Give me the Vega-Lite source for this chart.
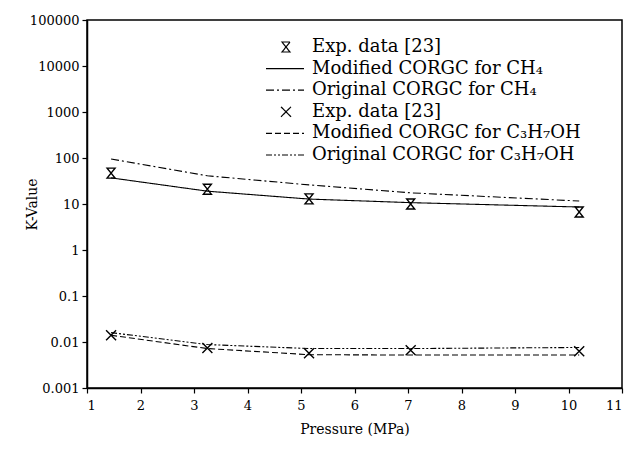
{
  "$schema": "https://vega.github.io/schema/vega-lite/v6.json",
  "width": 535,
  "height": 368,
  "autosize": {"type": "none"},
  "padding": {"left": 87, "top": 20, "right": 6, "bottom": 64},
  "background": "white",
  "config": {
    "font": "DejaVu Serif",
    "view": {"stroke": "black", "strokeWidth": 1.5},
    "axis": {
      "grid": false,
      "domainColor": "black",
      "domainWidth": 1.5,
      "tickColor": "black",
      "tickWidth": 1.2,
      "tickSize": 5,
      "labelColor": "black",
      "labelFont": "DejaVu Serif",
      "labelFontSize": 13,
      "titleColor": "black",
      "titleFont": "DejaVu Serif",
      "titleFontSize": 14,
      "titleFontWeight": "normal"
    },
    "legend": {
      "orient": "none",
      "legendX": 190,
      "legendY": 18,
      "padding": 0,
      "title": null,
      "labelFont": "DejaVu Serif",
      "labelFontSize": 18,
      "labelColor": "black",
      "labelLimit": 420,
      "labelOffset": 17,
      "rowPadding": 3.6,
      "symbolSize": 100,
      "symbolStrokeColor": "black",
      "symbolFillColor": "transparent",
      "symbolStrokeWidth": 1.2
    }
  },
  "datasets": {
    "lines": [
      {"series": "b", "P": 1.45, "K": 37},
      {"series": "b", "P": 3.25, "K": 19},
      {"series": "b", "P": 5.15, "K": 12.8},
      {"series": "b", "P": 7.05, "K": 10.7},
      {"series": "b", "P": 10.2, "K": 8.6},
      {"series": "c", "P": 1.45, "K": 95},
      {"series": "c", "P": 3.25, "K": 41},
      {"series": "c", "P": 5.15, "K": 26},
      {"series": "c", "P": 7.05, "K": 17.5},
      {"series": "c", "P": 10.2, "K": 11.6},
      {"series": "e", "P": 1.45, "K": 0.014},
      {"series": "e", "P": 3.25, "K": 0.0072},
      {"series": "e", "P": 5.15, "K": 0.0053},
      {"series": "e", "P": 7.05, "K": 0.0052},
      {"series": "e", "P": 10.2, "K": 0.0052},
      {"series": "f", "P": 1.45, "K": 0.016},
      {"series": "f", "P": 3.25, "K": 0.0088},
      {"series": "f", "P": 5.15, "K": 0.0072},
      {"series": "f", "P": 7.05, "K": 0.0072},
      {"series": "f", "P": 10.2, "K": 0.0076}
    ],
    "pts": [
      {"series": "a", "P": 1.45, "K": 47},
      {"series": "a", "P": 3.25, "K": 21},
      {"series": "a", "P": 5.15, "K": 12.9},
      {"series": "a", "P": 7.05, "K": 10},
      {"series": "a", "P": 10.2, "K": 6.7},
      {"series": "d", "P": 1.45, "K": 0.014},
      {"series": "d", "P": 3.25, "K": 0.0074},
      {"series": "d", "P": 5.15, "K": 0.0057},
      {"series": "d", "P": 7.05, "K": 0.0066},
      {"series": "d", "P": 10.2, "K": 0.0063}
    ]
  },
  "encoding": {
    "x": {
      "field": "P",
      "type": "quantitative",
      "scale": {"domain": [1, 11], "nice": false, "zero": false},
      "axis": {
        "values": [1, 2, 3, 4, 5, 6, 7, 8, 9, 10, 11],
        "format": "d",
        "title": "Pressure (MPa)",
        "labelPadding": 6,
        "titlePadding": 10
      }
    },
    "y": {
      "field": "K",
      "type": "quantitative",
      "scale": {"type": "log", "domain": [0.001, 100000], "nice": false},
      "axis": {
        "values": [0.001, 0.01, 0.1, 1, 10, 100, 1000, 10000, 100000],
        "format": "~g",
        "title": "K-Value",
        "labelPadding": 3,
        "titleX": -48,
        "titleY": 184
      }
    }
  },
  "layer": [
    {
      "data": {"name": "lines"},
      "mark": {"type": "line", "color": "black", "strokeWidth": 1.1},
      "encoding": {
        "strokeDash": {
          "field": "series",
          "type": "nominal",
          "scale": {
            "domain": ["a", "b", "c", "d", "e", "f"],
            "range": [[1, 0], [1, 0], [8, 3, 2, 3], [1, 0], [6, 3], [6, 2, 2, 2, 2, 2]]
          },
          "legend": {
            "labelExpr": "{'a':'Exp. data [23]','b':'Modified CORGC for CH₄','c':'Original CORGC for CH₄','d':'Exp. data [23]','e':'Modified CORGC for C₃H₇OH','f':'Original CORGC for C₃H₇OH'}[datum.value]"
          }
        }
      }
    },
    {
      "data": {"name": "pts"},
      "mark": {"type": "point", "filled": false, "color": "black", "size": 100, "strokeWidth": 1.4, "opacity": 1},
      "encoding": {
        "shape": {
          "field": "series",
          "type": "nominal",
          "scale": {
            "domain": ["a", "b", "c", "d", "e", "f"],
            "range": [
              "M-0.8,-1H0.8L-0.8,1H0.8Z",
              "M-4,0H3.6",
              "M-4,0H3.6",
              "M-1,-1L1,1M-1,1L1,-1",
              "M-4,0H3.6",
              "M-4,0H3.6"
            ]
          },
          "legend": {
            "labelExpr": "{'a':'Exp. data [23]','b':'Modified CORGC for CH₄','c':'Original CORGC for CH₄','d':'Exp. data [23]','e':'Modified CORGC for C₃H₇OH','f':'Original CORGC for C₃H₇OH'}[datum.value]"
          }
        }
      }
    }
  ]
}
